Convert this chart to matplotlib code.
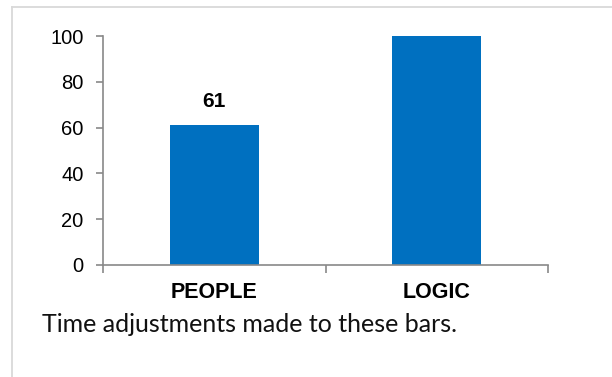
import matplotlib
matplotlib.use("Agg")
import matplotlib.pyplot as plt
from matplotlib.lines import Line2D

categories = ["PEOPLE", "LOGIC"]
values = [61, 100]
shown_labels = ["61", None]   # only the first bar carries a data label
y_ticks = [0, 20, 40, 60, 80, 100]
caption = "Time adjustments made to these bars."

bar_color = "#0070C0"
axis_color = "#898989"
frame_color = "#d9d9d9"

plt.rcParams['font.family'] = ['Liberation Sans', 'DejaVu Sans']

fig = plt.figure(figsize=(6.12, 3.77), dpi=100)
ax = fig.add_axes([103 / 612, 1 - 265 / 377, (548 - 103) / 612, (265 - 36) / 377])

x = list(range(len(categories)))
ax.bar(x, values, width=0.4, color=bar_color, zorder=2)

for xi, v, lab in zip(x, values, shown_labels):
    if lab:
        ax.annotate(lab, (xi, v), xytext=(0, 10), textcoords="offset points",
                    ha="center", va="bottom", fontsize=15, fontweight="bold")

ax.set_xlim(-0.5, len(categories) - 0.5)
ax.set_ylim(0, 100)
ax.set_yticks(y_ticks)
ax.set_yticklabels([str(t) for t in y_ticks], fontsize=14.5)

# category boundaries carry the tick marks, names sit between them
ax.set_xticks([i - 0.5 for i in range(len(categories) + 1)])
ax.set_xticklabels([])
ax.set_xticks(x, minor=True)
ax.set_xticklabels(categories, minor=True, fontsize=15.5, fontweight="bold")
ax.tick_params(axis="x", which="minor", length=0, pad=12)
ax.tick_params(axis="x", which="major", length=6, width=1.2, color=axis_color, direction="out")
ax.tick_params(axis="y", length=5, width=1.2, color=axis_color, direction="out", pad=9)

for s in ["top", "right"]:
    ax.spines[s].set_visible(False)
for s in ["left", "bottom"]:
    ax.spines[s].set_color(axis_color)
    ax.spines[s].set_linewidth(1.2)

# light frame around the chart area (left and top edges only are visible)
fig.add_artist(Line2D([11.5 / 612, 11.5 / 612], [0, 1 - 6.5 / 377],
                      transform=fig.transFigure, color=frame_color, lw=1.3))
fig.add_artist(Line2D([11.5 / 612, 1], [1 - 6.5 / 377, 1 - 6.5 / 377],
                      transform=fig.transFigure, color=frame_color, lw=1.3))

fig.text(42 / 612, 1 - 332 / 377, caption, fontsize=18, family=["Lato", "DejaVu Sans"],
         ha="left", va="baseline", color="#111111")

fig.savefig("out.png", dpi=100)
